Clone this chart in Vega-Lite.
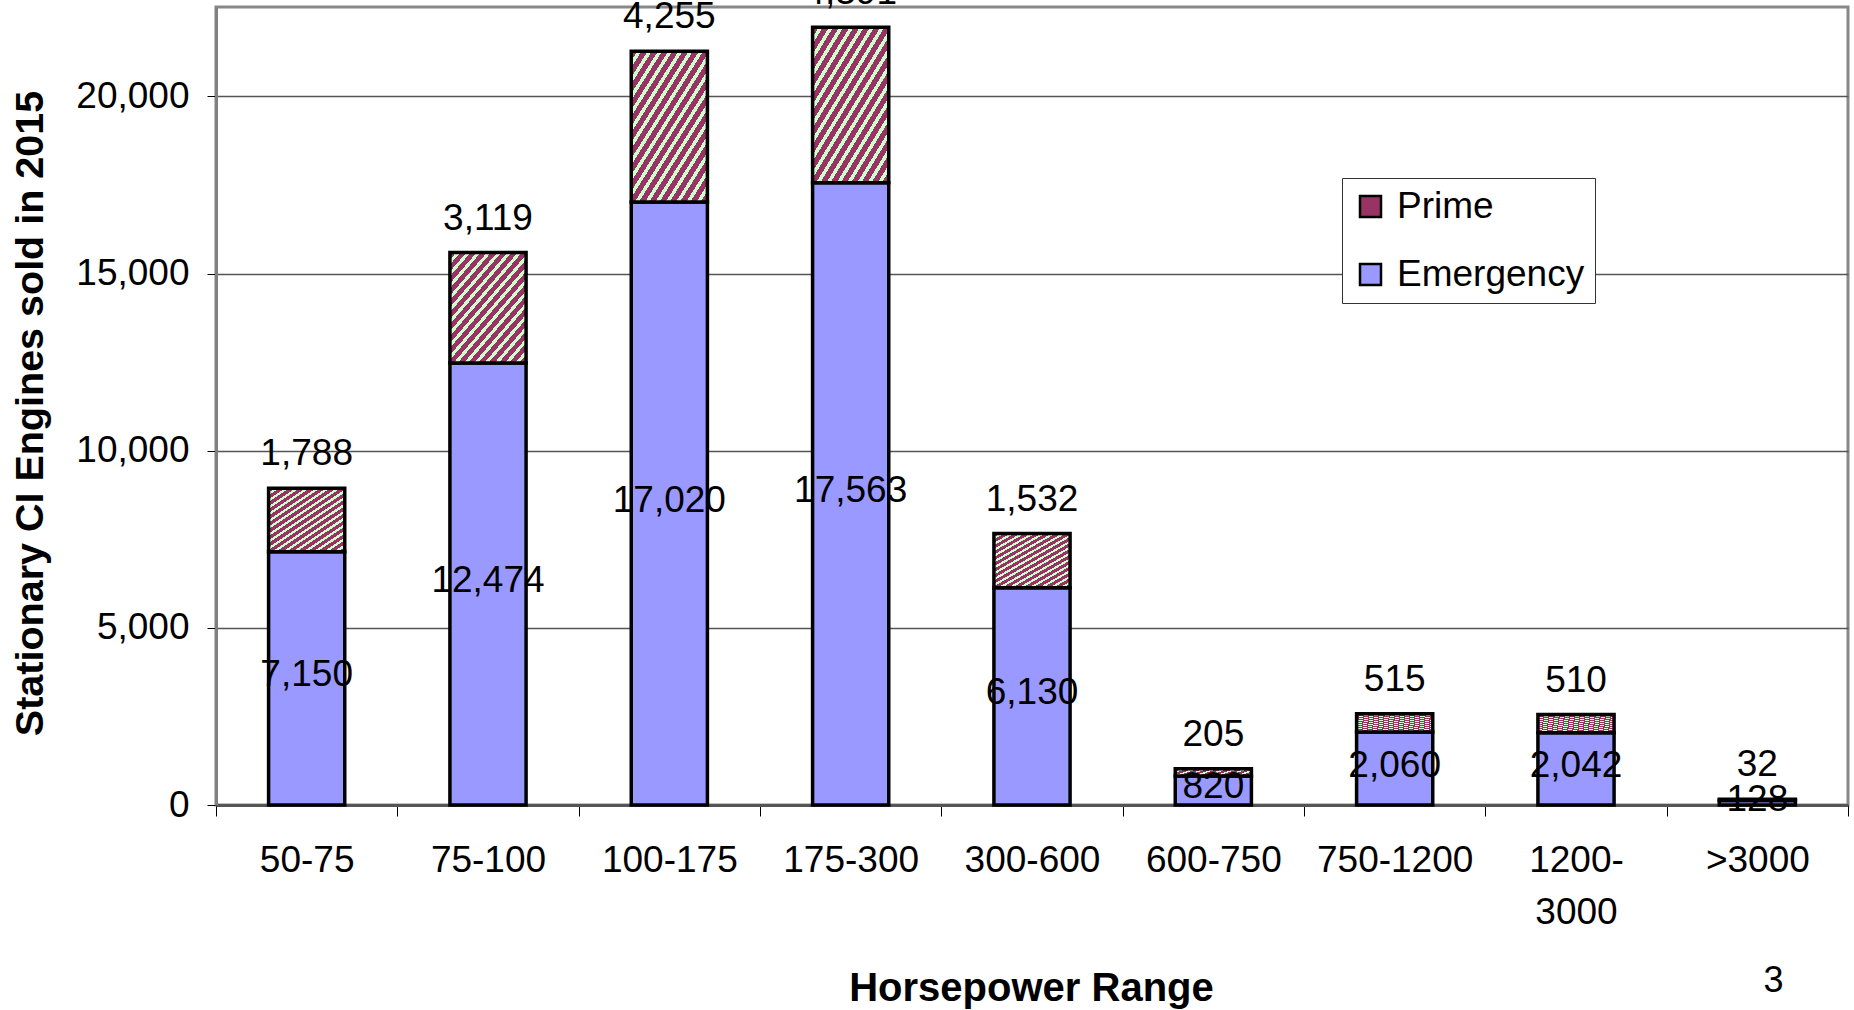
{
  "$schema": "https://vega.github.io/schema/vega-lite/v6.json",
  "autosize": {"type": "none"},
  "padding": {"left": 216, "top": 7, "right": 6, "bottom": 205},
  "width": 1632,
  "height": 798,
  "background": "white",
  "config": {
    "font": "Liberation Sans",
    "view": {"stroke": "#888888", "strokeWidth": 3}
  },
  "title": {"text": "3", "orient": "bottom", "anchor": "end", "fontSize": 36, "fontWeight": "normal", "font": "Liberation Sans", "color": "black", "offset": -44, "dx": -65},
  "data": {
    "values": [
      {"range": "50-75", "type": "Emergency", "count": 7150},
      {"range": "50-75", "type": "Prime", "count": 1788},
      {"range": "75-100", "type": "Emergency", "count": 12474},
      {"range": "75-100", "type": "Prime", "count": 3119},
      {"range": "100-175", "type": "Emergency", "count": 17020},
      {"range": "100-175", "type": "Prime", "count": 4255},
      {"range": "175-300", "type": "Emergency", "count": 17563},
      {"range": "175-300", "type": "Prime", "count": 4391},
      {"range": "300-600", "type": "Emergency", "count": 6130},
      {"range": "300-600", "type": "Prime", "count": 1532},
      {"range": "600-750", "type": "Emergency", "count": 820},
      {"range": "600-750", "type": "Prime", "count": 205},
      {"range": "750-1200", "type": "Emergency", "count": 2060},
      {"range": "750-1200", "type": "Prime", "count": 515},
      {"range": "1200-3000", "type": "Emergency", "count": 2042},
      {"range": "1200-3000", "type": "Prime", "count": 510},
      {"range": ">3000", "type": "Emergency", "count": 128},
      {"range": ">3000", "type": "Prime", "count": 32}
    ]
  },
  "transform": [
    {"stack": "count", "groupby": ["range"], "sort": [{"field": "type", "order": "ascending"}], "as": ["y0", "y1"]}
  ],
  "encoding": {
    "x": {
      "field": "range",
      "type": "nominal",
      "sort": ["50-75", "75-100", "100-175", "175-300", "300-600", "600-750", "750-1200", "1200-3000", ">3000"],
      "scale": {"paddingInner": 0, "paddingOuter": 0},
      "axis": {
        "title": "Horsepower Range",
        "titleFontSize": 40,
        "titleFontWeight": "bold",
        "titleColor": "black",
        "titleX": 815,
        "titleY": 183,
        "titleAlign": "center",
        "titleBaseline": "middle",
        "labelFontSize": 37,
        "labelColor": "black",
        "labelAngle": 0,
        "labelPadding": 26,
        "labelLineHeight": 52,
        "labelExpr": "datum.value === '1200-3000' ? ['1200-', '3000'] : datum.value",
        "tickBand": "extent",
        "tickSize": 11,
        "tickColor": "black",
        "tickWidth": 1,
        "domainColor": "#555555",
        "domainWidth": 3,
        "grid": false
      }
    }
  },
  "layer": [
    {
      "mark": {"type": "bar", "stroke": "black", "strokeWidth": 3.5, "width": {"band": 0.42}},
      "encoding": {
        "y": {
          "field": "y0",
          "type": "quantitative",
          "scale": {"domain": [0, 22525], "nice": false, "zero": true},
          "axis": {
            "title": "Stationary CI Engines sold in 2015",
            "titleFontSize": 39.5,
            "titleFontWeight": "bold",
            "titleColor": "black",
            "titleAngle": -90,
            "titleX": -186,
            "titleY": 406,
            "titleAlign": "center",
            "titleBaseline": "middle",
            "values": [0, 5000, 10000, 15000, 20000],
            "format": ",.0f",
            "labelFontSize": 37,
            "labelColor": "black",
            "labelPadding": 18,
            "tickSize": 9,
            "tickColor": "black",
            "tickWidth": 1,
            "domainColor": "#808080",
            "domainWidth": 3,
            "grid": true,
            "gridColor": "#555555",
            "gridWidth": 1.5
          }
        },
        "y2": {"field": "y1"},
        "fill": {
          "field": "type",
          "type": "nominal",
          "scale": {"domain": ["Prime", "Emergency"], "range": ["#993366", "#9999FF"]},
          "condition": {
            "test": "datum.type === 'Prime'",
            "value": {
              "gradient": "linear", "x1": 0, "y1": 0, "x2": 1, "y2": 1.25,
              "stops": [
                {"offset": 0, "color": "#993366"}, {"offset": 0.0316, "color": "#993366"}, {"offset": 0.0316, "color": "#CCFFCC"}, {"offset": 0.0526, "color": "#CCFFCC"},
                {"offset": 0.0526, "color": "#993366"}, {"offset": 0.0842, "color": "#993366"}, {"offset": 0.0842, "color": "#CCFFCC"}, {"offset": 0.1053, "color": "#CCFFCC"},
                {"offset": 0.1053, "color": "#993366"}, {"offset": 0.1368, "color": "#993366"}, {"offset": 0.1368, "color": "#CCFFCC"}, {"offset": 0.1579, "color": "#CCFFCC"},
                {"offset": 0.1579, "color": "#993366"}, {"offset": 0.1895, "color": "#993366"}, {"offset": 0.1895, "color": "#CCFFCC"}, {"offset": 0.2105, "color": "#CCFFCC"},
                {"offset": 0.2105, "color": "#993366"}, {"offset": 0.2421, "color": "#993366"}, {"offset": 0.2421, "color": "#CCFFCC"}, {"offset": 0.2632, "color": "#CCFFCC"},
                {"offset": 0.2632, "color": "#993366"}, {"offset": 0.2947, "color": "#993366"}, {"offset": 0.2947, "color": "#CCFFCC"}, {"offset": 0.3158, "color": "#CCFFCC"},
                {"offset": 0.3158, "color": "#993366"}, {"offset": 0.3474, "color": "#993366"}, {"offset": 0.3474, "color": "#CCFFCC"}, {"offset": 0.3684, "color": "#CCFFCC"},
                {"offset": 0.3684, "color": "#993366"}, {"offset": 0.4, "color": "#993366"}, {"offset": 0.4, "color": "#CCFFCC"}, {"offset": 0.4211, "color": "#CCFFCC"},
                {"offset": 0.4211, "color": "#993366"}, {"offset": 0.4526, "color": "#993366"}, {"offset": 0.4526, "color": "#CCFFCC"}, {"offset": 0.4737, "color": "#CCFFCC"},
                {"offset": 0.4737, "color": "#993366"}, {"offset": 0.5053, "color": "#993366"}, {"offset": 0.5053, "color": "#CCFFCC"}, {"offset": 0.5263, "color": "#CCFFCC"},
                {"offset": 0.5263, "color": "#993366"}, {"offset": 0.5579, "color": "#993366"}, {"offset": 0.5579, "color": "#CCFFCC"}, {"offset": 0.5789, "color": "#CCFFCC"},
                {"offset": 0.5789, "color": "#993366"}, {"offset": 0.6105, "color": "#993366"}, {"offset": 0.6105, "color": "#CCFFCC"}, {"offset": 0.6316, "color": "#CCFFCC"},
                {"offset": 0.6316, "color": "#993366"}, {"offset": 0.6632, "color": "#993366"}, {"offset": 0.6632, "color": "#CCFFCC"}, {"offset": 0.6842, "color": "#CCFFCC"},
                {"offset": 0.6842, "color": "#993366"}, {"offset": 0.7158, "color": "#993366"}, {"offset": 0.7158, "color": "#CCFFCC"}, {"offset": 0.7368, "color": "#CCFFCC"},
                {"offset": 0.7368, "color": "#993366"}, {"offset": 0.7684, "color": "#993366"}, {"offset": 0.7684, "color": "#CCFFCC"}, {"offset": 0.7895, "color": "#CCFFCC"},
                {"offset": 0.7895, "color": "#993366"}, {"offset": 0.8211, "color": "#993366"}, {"offset": 0.8211, "color": "#CCFFCC"}, {"offset": 0.8421, "color": "#CCFFCC"},
                {"offset": 0.8421, "color": "#993366"}, {"offset": 0.8737, "color": "#993366"}, {"offset": 0.8737, "color": "#CCFFCC"}, {"offset": 0.8947, "color": "#CCFFCC"},
                {"offset": 0.8947, "color": "#993366"}, {"offset": 0.9263, "color": "#993366"}, {"offset": 0.9263, "color": "#CCFFCC"}, {"offset": 0.9474, "color": "#CCFFCC"},
                {"offset": 0.9474, "color": "#993366"}, {"offset": 0.9789, "color": "#993366"}, {"offset": 0.9789, "color": "#CCFFCC"}, {"offset": 1, "color": "#CCFFCC"}
              ]
            }
          },
          "legend": {
            "title": null,
            "orient": "none",
            "legendX": 1126,
            "legendY": 171,
            "fillColor": "white",
            "strokeColor": "#333333",
            "padding": 10,
            "rowPadding": 30,
            "labelFontSize": 37,
            "labelColor": "black",
            "labelLimit": 0,
            "labelOffset": 8,
            "symbolType": "square",
            "symbolSize": 441,
            "symbolStrokeColor": "black",
            "symbolStrokeWidth": 2.5,
            "encode": {
              "symbols": {
                "update": {
                  "fill": [
                    {
                      "test": "datum.value === 'Prime'",
                      "value": {
                        "gradient": "linear", "x1": 0, "y1": 0, "x2": 1, "y2": 1,
                        "stops": [
                          {"offset": 0, "color": "#993366"}, {"offset": 0.4, "color": "#993366"},
                          {"offset": 0.4, "color": "#CCFFCC"}, {"offset": 0.58, "color": "#CCFFCC"},
                          {"offset": 0.58, "color": "#993366"}, {"offset": 1, "color": "#993366"}
                        ]
                      }
                    },
                    {"value": "#9999FF"}
                  ],
                  "stroke": {"value": "black"},
                  "strokeWidth": {"value": 2.5}
                }
              }
            }
          }
        }
      }
    },
    {
      "transform": [{"filter": "datum.type === 'Emergency'"}],
      "mark": {"type": "text", "fontSize": 37, "baseline": "middle", "dy": -3, "color": "black"},
      "encoding": {
        "y": {"field": "count", "type": "quantitative", "scale": {"domain": [0, 45050], "nice": false}, "axis": null},
        "text": {"field": "count", "type": "quantitative", "format": ","}
      }
    },
    {
      "transform": [{"filter": "datum.type === 'Prime'"}],
      "mark": {"type": "text", "fontSize": 37, "baseline": "middle", "dy": -34, "color": "black"},
      "encoding": {
        "y": {"field": "y1", "type": "quantitative", "scale": {"domain": [0, 22525], "nice": false}, "axis": null},
        "text": {"field": "count", "type": "quantitative", "format": ","}
      }
    }
  ],
  "resolve": {"scale": {"y": "independent"}}
}
